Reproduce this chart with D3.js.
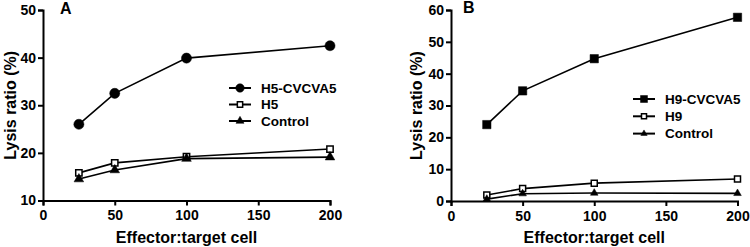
<!DOCTYPE html>
<html>
<head>
<meta charset="utf-8">
<script src="https://cdn.jsdelivr.net/npm/d3@7"></script>
<style>
  body { margin: 0; background: #fff; }
  text { font-family: "Liberation Sans", Arial, sans-serif; font-weight: bold; fill: #000; }
</style>
</head>
<body>
<div id="chart"></div>
<script>
// effector:target ratios (shared by both panels)
const ratios = [25, 50, 100, 200];
const xTicks = [0, 50, 100, 150, 200];

// panel A
const h5Cvcva5 = [26.0, 32.5, 39.9, 42.5];
const h5 = [15.8, 17.9, 19.2, 20.8];
const controlA = [14.5, 16.4, 18.8, 19.1];
const yTicksA = [10, 20, 30, 40, 50];

// panel B
const h9Cvcva5 = [24.0, 34.6, 44.7, 57.7];
const h9 = [1.9, 3.9, 5.6, 6.9];
const controlB = [0.6, 2.3, 2.5, 2.4];
const yTicksB = [0, 10, 20, 30, 40, 50, 60];

const svg = d3.select('#chart').append('svg')
  .attr('width', 750)
  .attr('height', 247);

function drawPanel(p) {
  let g = svg.append('g');

  let x = d3.scaleLinear().domain([0, 200]).range([p.left, p.right]);
  let y = d3.scaleLinear().domain(p.yDomain).range([p.bottom, p.top]);

  let yAxis = d3.axisLeft(y).tickValues(p.yTicks).tickSize(5).tickPadding(2).tickFormat(d3.format('d'));
  let xAxis = d3.axisBottom(x).tickValues(xTicks).tickSize(5).tickPadding(3).tickFormat(d3.format('d'));

  let ya = g.append('g').attr('transform', `translate(${p.left},0)`).call(yAxis);
  let xa = g.append('g').attr('transform', `translate(0,${p.bottom})`).call(xAxis);
  [ya, xa].forEach(a => {
    a.select('.domain').attr('stroke', '#000').attr('stroke-width', 2);
    a.selectAll('.tick line').attr('stroke', '#000').attr('stroke-width', 2);
    a.selectAll('.tick text').style('font-size', '14px').style('font-weight', 'bold')
      .style('font-family', '"Liberation Sans", Arial, sans-serif').attr('fill', '#000');
  });
  xa.selectAll('.tick text').attr('dy', '0.85em');

  // titles
  g.append('text')
    .attr('transform', `translate(${p.yTitleX},${(p.top + p.bottom) / 2}) rotate(-90)`)
    .attr('text-anchor', 'middle')
    .style('font-size', '16px')
    .text('Lysis ratio (%)');
  g.append('text')
    .attr('x', (p.left + p.right) / 2)
    .attr('y', 243)
    .attr('text-anchor', 'middle')
    .style('font-size', '16px')
    .text('Effector:target cell');
  g.append('text')
    .attr('x', p.letterX).attr('y', p.letterY)
    .style('font-size', '16px')
    .text(p.letter);

  let line = d3.line().x((d, i) => x(ratios[i])).y(d => y(d));

  p.series.forEach((s, k) => {
    g.append('path')
      .datum(s.values)
      .attr('d', line)
      .attr('fill', 'none')
      .attr('stroke', '#000')
      .attr('stroke-width', 1.6);

    g.selectAll(null)
      .data(s.values)
      .enter()
      .append('path')
      .attr('transform', (d, i) => `translate(${x(ratios[i])},${y(d)})`)
      .attr('d', d3.symbol().type(s.shape).size(s.size))
      .attr('fill', s.fill)
      .attr('stroke', '#000')
      .attr('stroke-width', s.fill === '#fff' ? 1.5 : 0.5);

    // legend entry
    let ly = p.legendY + k * p.legendGap;
    g.append('line')
      .attr('x1', p.legendX).attr('x2', p.legendX + 22)
      .attr('y1', ly).attr('y2', ly)
      .attr('stroke', '#000').attr('stroke-width', 2);
    g.append('path')
      .attr('transform', `translate(${p.legendX + 11},${ly})`)
      .attr('d', d3.symbol().type(s.shape).size(s.size * 0.7))
      .attr('fill', s.fill)
      .attr('stroke', '#000')
      .attr('stroke-width', s.fill === '#fff' ? 1.5 : 0.5);
    g.append('text')
      .attr('x', p.legendX + 32)
      .attr('y', ly)
      .attr('dy', '0.36em')
      .style('font-size', '13.5px')
      .text(s.name);
  });
}

drawPanel({
  left: 43, right: 330, top: 10, bottom: 200.5,
  yDomain: [10, 50], yTicks: yTicksA,
  yTitleX: 16, letter: 'A', letterX: 60, letterY: 14,
  legendX: 229, legendY: 88, legendGap: 16.5,
  series: [
    { name: 'H5-CVCVA5', values: h5Cvcva5, shape: d3.symbolCircle, size: 80, fill: '#000' },
    { name: 'H5', values: h5, shape: d3.symbolSquare, size: 40, fill: '#fff' },
    { name: 'Control', values: controlA, shape: d3.symbolTriangle, size: 40, fill: '#000' }
  ]
});

drawPanel({
  left: 451, right: 737.5, top: 10, bottom: 201,
  yDomain: [0, 60], yTicks: yTicksB,
  yTitleX: 422, letter: 'B', letterX: 463, letterY: 13,
  legendX: 633, legendY: 99, legendGap: 17.3,
  series: [
    { name: 'H9-CVCVA5', values: h9Cvcva5, shape: d3.symbolSquare, size: 70, fill: '#000' },
    { name: 'H9', values: h9, shape: d3.symbolSquare, size: 36, fill: '#fff' },
    { name: 'Control', values: controlB, shape: d3.symbolTriangle, size: 25, fill: '#000' }
  ]
});
</script>
</body>
</html>
